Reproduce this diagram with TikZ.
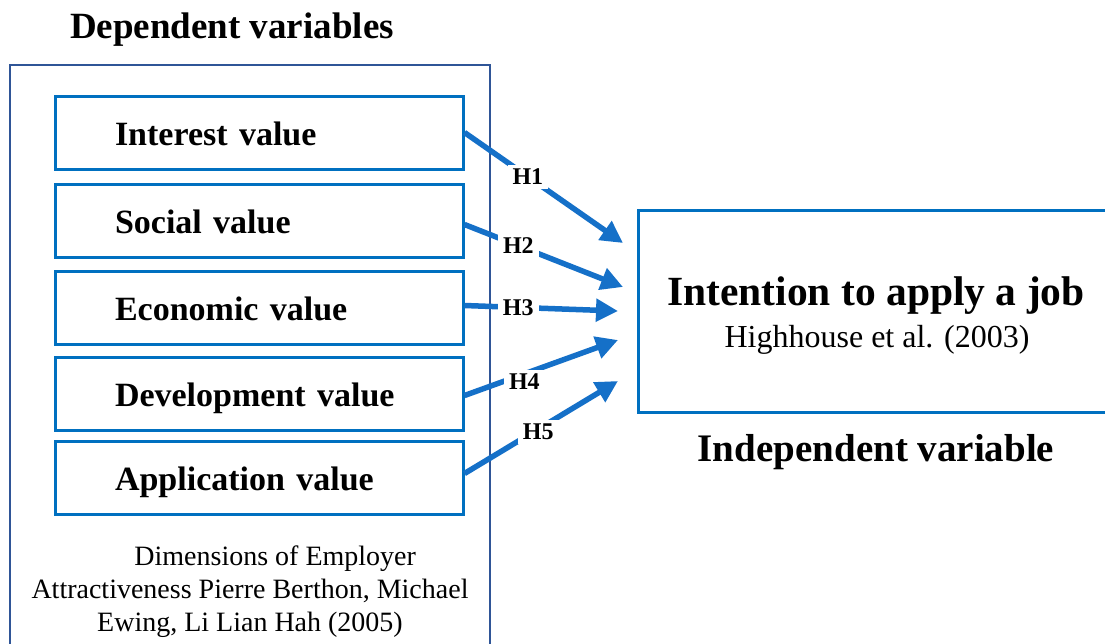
\documentclass[tikz,border=0pt]{standalone}
\usepackage{fontspec}
\setmainfont{Liberation Serif}
\usetikzlibrary{arrows.meta}
\definecolor{boxblue}{RGB}{0,112,192}
\definecolor{outerblue}{RGB}{47,85,151}
\definecolor{arrowblue}{RGB}{21,112,200}
\tikzset{
  valbox/.style={draw=boxblue, line width=3pt, minimum width=408pt, minimum height=73pt,
    inner xsep=60pt, text width=288pt, align=left, text height=31pt, text depth=6pt,
    font=\fontsize{34pt}{38pt}\selectfont\bfseries},
  hyp/.style={draw=arrowblue, line width=5.5pt, -{Triangle[length=22pt,width=22pt]}},
  hlab/.style={fill=white, inner xsep=5pt, inner ysep=4pt, text=black, font=\fontsize{24pt}{26pt}\selectfont\bfseries},
  title/.style={font=\fontsize{37pt}{40pt}\selectfont\bfseries}
}
\begin{document}
\begin{tikzpicture}[x=1pt,y=-1pt]
\clip (0,0) rectangle (1105,643);
\fill[white] (0,0) rectangle (1105,643);
% outer box
\draw[outerblue, line width=2pt] (10,65) rectangle (490,700);
\node[title] (dep) at (232,30) {Dependent variables};
% value boxes
\node[valbox] (b1) at (259,132.5) {Interest value};
\node[valbox] (b2) at (259,220.5) {Social value};
\node[valbox] (b3) at (259,307.5) {Economic value};
\node[valbox] (b4) at (259,393.5) {Development value};
\node[valbox] (b5) at (259,477.5) {Application value};
\node[align=center, font=\fontsize{28pt}{33pt}\selectfont] (src) at (250,592)
  {\hspace*{1.8em}Dimensions of Employer\\Attractiveness Pierre Berthon, Michael\\Ewing, Li Lian Hah (2005)};
% right box
\node[draw=boxblue, line width=3pt, minimum width=492pt, minimum height=202pt] (iv) at (884,311) {};
\node[anchor=base, font=\fontsize{41.5pt}{44pt}\selectfont\bfseries] (ivt) at (876,305) {Intention to apply a job};
\node[anchor=base, font=\fontsize{32pt}{34pt}\selectfont] (ivs) at (877,347) {Highhouse et al. (2003)};
\node[font=\fontsize{39pt}{42pt}\selectfont\bfseries] (ind) at (876,452) {Independent variable};
% arrow tips
\coordinate (t1) at (623,243);
\coordinate (t2) at (623,287);
\coordinate (t3) at (618,311);
\coordinate (t4) at (618,340);
\coordinate (t5) at (618,381);
\draw[hyp] (b1.east) -- node[hlab, pos=0.40] {H1} (t1);
\draw[hyp] ([yshift=-4pt]b2.east) -- node[hlab, pos=0.34] {H2} (t2);
\draw[hyp] ([yshift=2pt]b3.east) -- node[hlab, pos=0.35] {H3} (t3);
\draw[hyp] ([yshift=-2pt]b4.east) -- node[hlab, pos=0.39, yshift=-8pt] {H4} (t4);
\draw[hyp] ([yshift=4pt]b5.east) -- node[hlab, pos=0.48, yshift=-3pt] {H5} (t5);
\end{tikzpicture}
\end{document}
